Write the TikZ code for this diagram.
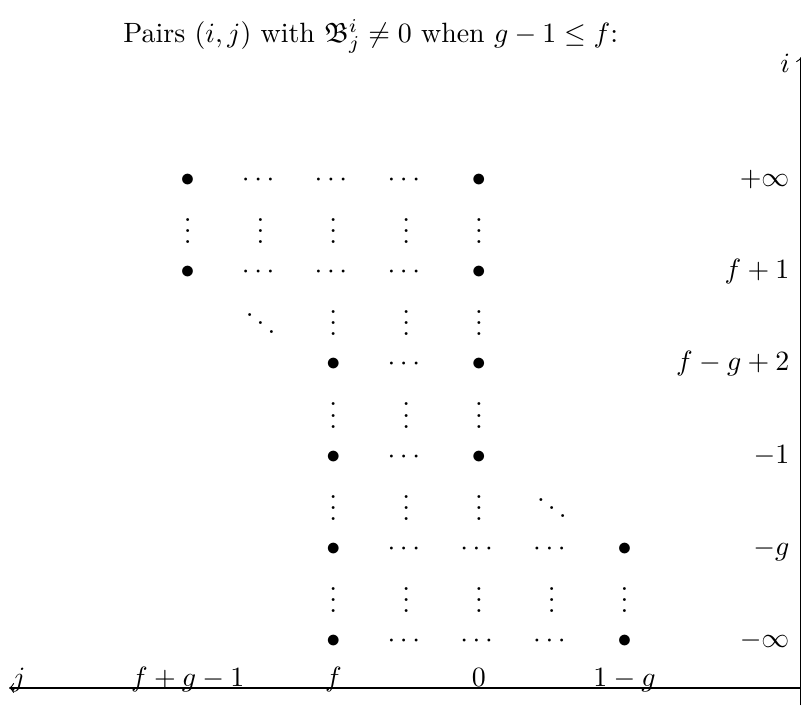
\documentclass[tikz,border=0pt]{standalone}
\usepackage{amsmath,amssymb}
\usepackage{tikz}

\begin{document}
\begin{tikzpicture}[x=26.09pt,y=16.54pt,
  cell/.style={anchor=base,yshift=-2.5pt,inner sep=0pt},
  gapcell/.style={anchor=base,yshift=-6.5pt,inner sep=0pt},
  rowlab/.style={anchor=base east,yshift=-2.5pt,inner sep=0pt},
  collab/.style={anchor=base,inner sep=0pt}]
 \useasboundingbox (-2.578,-1.393) rectangle (8.423,13.886);
 \node[anchor=base] (title) at (2.514,12.96)
  {Pairs $(i,j)$ with $\mathfrak{B}^i_j\neq 0$ when $g-1\leq f$:};
 % nonzero entries
 \foreach \c/\r in {0/10,4/10,0/8,4/8,2/6,4/6,2/4,4/4,2/2,6/2,2/0,6/0}
  \node[cell] (b\c-\r) at (\c,\r) {$\bullet$};
 \foreach \c/\r in {1/10,2/10,3/10,1/8,2/8,3/8,3/6,3/4,3/2,4/2,5/2,3/0,4/0,5/0}
  \node[cell] (h\c-\r) at (\c,\r) {$\cdots$};
 \foreach \c/\r in {0/9,1/9,2/9,3/9,4/9,2/7,3/7,4/7,2/5,3/5,4/5,2/3,3/3,4/3,
                    2/1,3/1,4/1,5/1,6/1}
  \node[gapcell] (v\c-\r) at (\c,\r) {$\vdots$};
 \node[gapcell] (d1-7) at (1,7) {$\ddots$};
 \node[gapcell] (d5-3) at (5,3) {$\ddots$};
 % values of i
 \node[rowlab] (r10) at (8.271,10) {$+\infty$};
 \node[rowlab] (r8) at (8.271,8) {$f+1$};
 \node[rowlab] (r6) at (8.271,6) {$f-g+2$};
 \node[rowlab] (r4) at (8.271,4) {$-1$};
 \node[rowlab] (r2) at (8.271,2) {$-g$};
 \node[rowlab] (r0) at (8.271,0) {$-\infty$};
 % values of j
 \node[collab] (c0) at (0,-0.982) {$f+g-1$};
 \node[collab] (c2) at (2,-0.982) {$f$};
 \node[collab] (c4) at (4,-0.982) {$0$};
 \node[collab] (c6) at (6,-0.982) {$1-g$};
 % axes
 \coordinate (o) at (8.423,-1.018);
 \coordinate (obot) at (8.423,-1.393);
 \coordinate (jend) at (-2.454,-1.018);
 \coordinate (iend) at (8.423,12.65);
 \draw[->] (o) -- (jend);
 \draw[->] (obot) -- (iend);
 \node[collab] (jlab) at (-2.317,-0.982) {$j$};
 \node (ilab) at (8.204,12.52) {$i$};
\end{tikzpicture}
\end{document}
